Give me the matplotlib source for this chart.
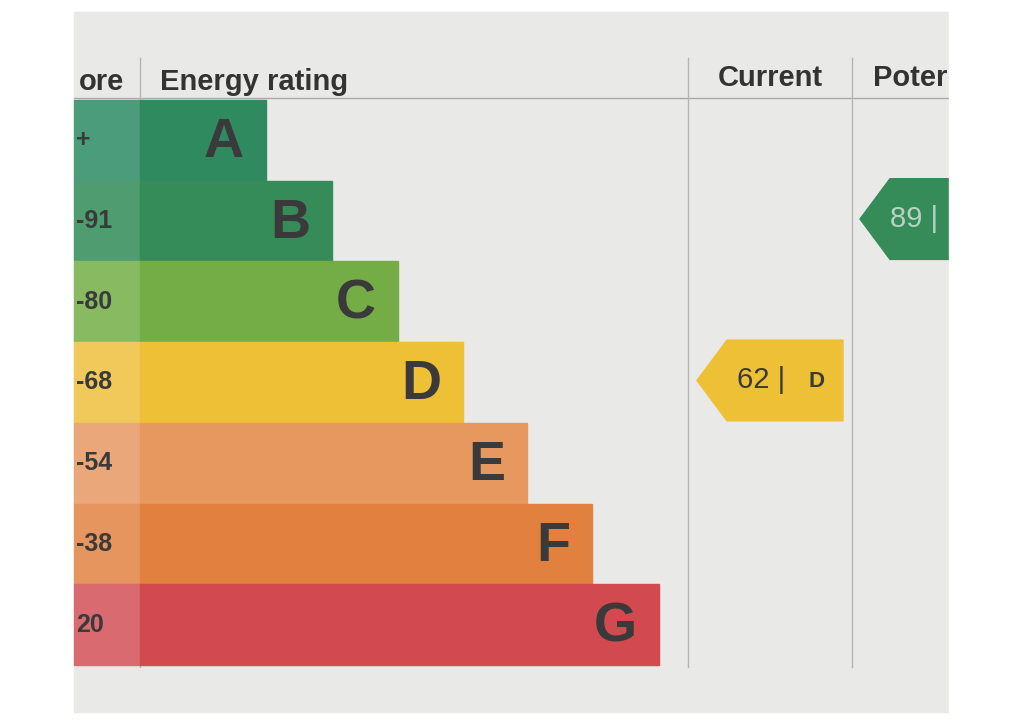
import matplotlib
matplotlib.use("Agg")
import matplotlib.pyplot as plt
from matplotlib.patches import Rectangle, Polygon
plt.rcParams['font.family'] = ['Liberation Sans', 'DejaVu Sans']

letters = ["A", "B", "C", "D", "E", "F", "G"]
score_labels = ["+", "-91", "-80", "-68", "-54", "-38", "20"]
bar_right = [266, 332, 398, 463, 527, 592, 659]
colors = ["#2f8a60", "#358c58", "#74ad45", "#eec036", "#e7985f", "#e2813f", "#d24a50"]
score_colors = ["#4a9c7a", "#4f9c70", "#88ba62", "#f0c95a", "#eaa87a", "#e6955f", "#d86a70"]
current_value, current_letter, current_row = 62, "D", 3
potential_value, potential_row = 89, 1

fig = plt.figure(figsize=(10.24, 7.24), dpi=100)
ax = fig.add_axes([0, 0, 1, 1])
ax.set_xlim(0, 1024); ax.set_ylim(724, 0); ax.axis("off")
fig.patch.set_facecolor("white")
ax.add_patch(Rectangle((74, 12), 875, 700, color="#e9e9e7", zorder=0))

top, rh = 100, 80.7
ax.plot([74, 949], [98, 98], color="#aaaaaa", lw=1)
for x in [140, 688, 852]:
    ax.plot([x, x], [58, 667], color="#b5b5b5", lw=1)
hdr = dict(va="center", fontsize=21, fontweight="bold", color="#333333")
ax.text(124, 82, "ore", ha="right", **hdr)
ax.text(160, 82, "Energy rating", ha="left", **hdr)
ax.text(770, 78, "Current", ha="center", **hdr)
ax.text(873, 78, "Poter", ha="left", **hdr)

for i, (l, s, r, c, sc) in enumerate(zip(letters, score_labels, bar_right, colors, score_colors)):
    y = top + i * rh
    ax.add_patch(Rectangle((74, y), 66, rh, color=sc, zorder=2))
    ax.add_patch(Rectangle((140, y), r - 140, rh, color=c, zorder=2))
    ax.text(r - 22, y + rh / 2 + 3, l, ha="right", va="center", fontsize=40, fontweight="bold", color="#3a3a3a", zorder=3)
    ax.text(76, y + rh / 2, s, ha="left", va="center", fontsize=18, fontweight="bold", color="#3a3a3a", zorder=3)

def arrow(x0, x1, row, color):
    y = top + row * rh - 2
    pts = [(x0, y + rh / 2), (x0 + 30, y), (x1, y), (x1, y + rh), (x0 + 30, y + rh)]
    ax.add_patch(Polygon(pts, closed=True, color=color, zorder=2))
    return y + rh / 2

yc = arrow(697, 843, current_row, colors[current_row])
ax.text(785, yc, f"{current_value} |", ha="right", va="center", fontsize=21, color="#3a3a3a", zorder=3)
ax.text(816, yc + 1, current_letter, ha="center", va="center", fontsize=16, fontweight="bold", color="#3a3a3a", zorder=3)
yp = arrow(860, 949, potential_row, colors[potential_row])
ax.text(890, yp, f"{potential_value} |", ha="left", va="center", fontsize=21, color="#b9d3c2", zorder=3)
ax.add_patch(Rectangle((949, 0), 75, 724, color="white", zorder=5))

fig.savefig("out.png", dpi=100)
